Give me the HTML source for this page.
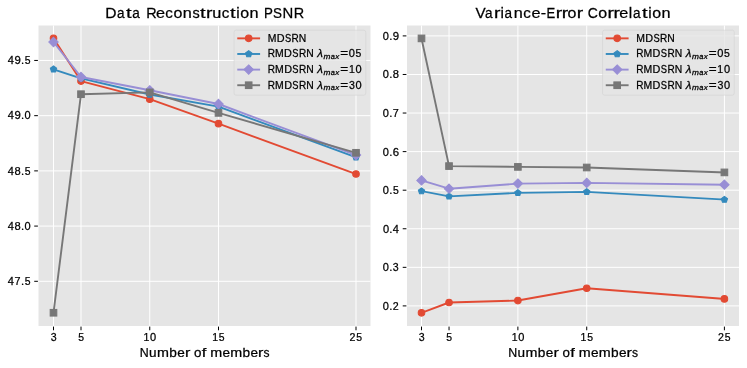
<!DOCTYPE html>
<html><head><meta charset="utf-8"><title>Data Reconstruction PSNR / Variance-Error Correlation</title>
<style>html,body{margin:0;padding:0;background:#fff;overflow:hidden;}svg{display:block;will-change:transform;}text{font-family:"Liberation Sans", sans-serif;fill:#000;stroke:#000;stroke-width:0.25px;}</style>
</head><body>
<svg width="747" height="368" viewBox="0 0 747 368">
<rect x="0" y="0" width="747" height="368" fill="#fff"/>
<rect x="38.5" y="25.5" width="332" height="300.5" fill="#E5E5E5"/>
<path d="M53.5 25.5V326M81 25.5V326M149.75 25.5V326M218.5 25.5V326M356 25.5V326M38.5 281.3H370.5M38.5 226.09H370.5M38.5 170.88H370.5M38.5 115.66H370.5M38.5 60.45H370.5" stroke="#fff" stroke-width="1" fill="none"/>
<path d="M53.5 326.6v3.67M81 326.6v3.67M149.75 326.6v3.67M218.5 326.6v3.67M356 326.6v3.67M37.9 281.3h-3.67M37.9 226.09h-3.67M37.9 170.88h-3.67M37.9 115.66h-3.67M37.9 60.45h-3.67" stroke="#000" stroke-width="1" fill="none"/>
<polyline points="53.5,38.3 81,81.1 149.75,99.2 218.5,123.7 356,174" fill="none" stroke="#E24A33" stroke-width="1.9" stroke-linejoin="round" stroke-linecap="square"/>
<circle cx="53.5" cy="38.3" r="3.3" fill="#E24A33" stroke="#E24A33" stroke-width="1.05"/><circle cx="81" cy="81.1" r="3.3" fill="#E24A33" stroke="#E24A33" stroke-width="1.05"/><circle cx="149.75" cy="99.2" r="3.3" fill="#E24A33" stroke="#E24A33" stroke-width="1.05"/><circle cx="218.5" cy="123.7" r="3.3" fill="#E24A33" stroke="#E24A33" stroke-width="1.05"/><circle cx="356" cy="174" r="3.3" fill="#E24A33" stroke="#E24A33" stroke-width="1.05"/>
<polyline points="53.5,69.3 81,78.3 149.75,94.5 218.5,106.6 356,157.4" fill="none" stroke="#348ABD" stroke-width="1.9" stroke-linejoin="round" stroke-linecap="square"/>
<polygon points="53.5,66 50.36,68.28 51.56,71.97 55.44,71.97 56.64,68.28" fill="#348ABD" stroke="#348ABD" stroke-width="1.05"/><polygon points="81,75 77.86,77.28 79.06,80.97 82.94,80.97 84.14,77.28" fill="#348ABD" stroke="#348ABD" stroke-width="1.05"/><polygon points="149.75,91.2 146.61,93.48 147.81,97.17 151.69,97.17 152.89,93.48" fill="#348ABD" stroke="#348ABD" stroke-width="1.05"/><polygon points="218.5,103.3 215.36,105.58 216.56,109.27 220.44,109.27 221.64,105.58" fill="#348ABD" stroke="#348ABD" stroke-width="1.05"/><polygon points="356,154.1 352.86,156.38 354.06,160.07 357.94,160.07 359.14,156.38" fill="#348ABD" stroke="#348ABD" stroke-width="1.05"/>
<polyline points="53.5,42 81,77 149.75,90.3 218.5,104 356,155.1" fill="none" stroke="#988ED5" stroke-width="1.9" stroke-linejoin="round" stroke-linecap="square"/>
<polygon points="53.5,37.33 58.17,42 53.5,46.67 48.83,42" fill="#988ED5" stroke="#988ED5" stroke-width="1.05"/><polygon points="81,72.33 85.67,77 81,81.67 76.33,77" fill="#988ED5" stroke="#988ED5" stroke-width="1.05"/><polygon points="149.75,85.63 154.42,90.3 149.75,94.97 145.08,90.3" fill="#988ED5" stroke="#988ED5" stroke-width="1.05"/><polygon points="218.5,99.33 223.17,104 218.5,108.67 213.83,104" fill="#988ED5" stroke="#988ED5" stroke-width="1.05"/><polygon points="356,150.43 360.67,155.1 356,159.77 351.33,155.1" fill="#988ED5" stroke="#988ED5" stroke-width="1.05"/>
<polyline points="53.5,312.75 81,94.2 149.75,92.4 218.5,112.9 356,152.8" fill="none" stroke="#777777" stroke-width="1.9" stroke-linejoin="round" stroke-linecap="square"/>
<rect x="50.2" y="309.45" width="6.6" height="6.6" fill="#777777" stroke="#777777" stroke-width="1.05"/><rect x="77.7" y="90.9" width="6.6" height="6.6" fill="#777777" stroke="#777777" stroke-width="1.05"/><rect x="146.45" y="89.1" width="6.6" height="6.6" fill="#777777" stroke="#777777" stroke-width="1.05"/><rect x="215.2" y="109.6" width="6.6" height="6.6" fill="#777777" stroke="#777777" stroke-width="1.05"/><rect x="352.7" y="149.5" width="6.6" height="6.6" fill="#777777" stroke="#777777" stroke-width="1.05"/>
<rect x="234.02" y="30.14" width="131.75" height="65.07" rx="2.1" ry="2.1" fill="#E5E5E5" fill-opacity="0.8" stroke="#CCCCCC" stroke-opacity="0.8" stroke-width="0.52"/>
<path d="M238.21 38.36H259.15" stroke="#E24A33" stroke-width="1.9" stroke-linecap="square"/>
<circle cx="248.68" cy="38.36" r="3.3" fill="#E24A33" stroke="#E24A33" stroke-width="1.05"/>
<path d="M238.21 53.98H259.15" stroke="#348ABD" stroke-width="1.9" stroke-linecap="square"/>
<polygon points="248.68,50.68 245.54,52.96 246.74,56.65 250.62,56.65 251.82,52.96" fill="#348ABD" stroke="#348ABD" stroke-width="1.05"/>
<path d="M238.21 69.61H259.15" stroke="#988ED5" stroke-width="1.9" stroke-linecap="square"/>
<polygon points="248.68,64.94 253.35,69.61 248.68,74.27 244.01,69.61" fill="#988ED5" stroke="#988ED5" stroke-width="1.05"/>
<path d="M238.21 85.23H259.15" stroke="#777777" stroke-width="1.9" stroke-linecap="square"/>
<rect x="245.38" y="81.93" width="6.6" height="6.6" fill="#777777" stroke="#777777" stroke-width="1.05"/>
<rect x="407" y="25.5" width="332" height="300.5" fill="#E5E5E5"/>
<path d="M421.5 25.5V326M449.04 25.5V326M517.88 25.5V326M586.72 25.5V326M724.4 25.5V326M407 305.9H739M407 267.33H739M407 228.76H739M407 190.19H739M407 151.61H739M407 113.04H739M407 74.47H739M407 35.9H739" stroke="#fff" stroke-width="1" fill="none"/>
<path d="M421.5 326.6v3.67M449.04 326.6v3.67M517.88 326.6v3.67M586.72 326.6v3.67M724.4 326.6v3.67M406.4 305.9h-3.67M406.4 267.33h-3.67M406.4 228.76h-3.67M406.4 190.19h-3.67M406.4 151.61h-3.67M406.4 113.04h-3.67M406.4 74.47h-3.67M406.4 35.9h-3.67" stroke="#000" stroke-width="1" fill="none"/>
<polyline points="421.5,312.8 449.04,302.5 517.88,300.56 586.72,288.2 724.4,298.9" fill="none" stroke="#E24A33" stroke-width="1.9" stroke-linejoin="round" stroke-linecap="square"/>
<circle cx="421.5" cy="312.8" r="3.3" fill="#E24A33" stroke="#E24A33" stroke-width="1.05"/><circle cx="449.04" cy="302.5" r="3.3" fill="#E24A33" stroke="#E24A33" stroke-width="1.05"/><circle cx="517.88" cy="300.56" r="3.3" fill="#E24A33" stroke="#E24A33" stroke-width="1.05"/><circle cx="586.72" cy="288.2" r="3.3" fill="#E24A33" stroke="#E24A33" stroke-width="1.05"/><circle cx="724.4" cy="298.9" r="3.3" fill="#E24A33" stroke="#E24A33" stroke-width="1.05"/>
<polyline points="421.5,191.1 449.04,196.4 517.88,192.9 586.72,191.85 724.4,199.6" fill="none" stroke="#348ABD" stroke-width="1.9" stroke-linejoin="round" stroke-linecap="square"/>
<polygon points="421.5,187.8 418.36,190.08 419.56,193.77 423.44,193.77 424.64,190.08" fill="#348ABD" stroke="#348ABD" stroke-width="1.05"/><polygon points="449.04,193.1 445.9,195.38 447.1,199.07 450.98,199.07 452.17,195.38" fill="#348ABD" stroke="#348ABD" stroke-width="1.05"/><polygon points="517.88,189.6 514.74,191.88 515.94,195.57 519.82,195.57 521.01,191.88" fill="#348ABD" stroke="#348ABD" stroke-width="1.05"/><polygon points="586.72,188.55 583.58,190.83 584.78,194.52 588.66,194.52 589.85,190.83" fill="#348ABD" stroke="#348ABD" stroke-width="1.05"/><polygon points="724.4,196.3 721.26,198.58 722.46,202.27 726.34,202.27 727.53,198.58" fill="#348ABD" stroke="#348ABD" stroke-width="1.05"/>
<polyline points="421.5,180.4 449.04,188.7 517.88,183.6 586.72,182.9 724.4,184.7" fill="none" stroke="#988ED5" stroke-width="1.9" stroke-linejoin="round" stroke-linecap="square"/>
<polygon points="421.5,175.73 426.17,180.4 421.5,185.07 416.83,180.4" fill="#988ED5" stroke="#988ED5" stroke-width="1.05"/><polygon points="449.04,184.03 453.7,188.7 449.04,193.37 444.37,188.7" fill="#988ED5" stroke="#988ED5" stroke-width="1.05"/><polygon points="517.88,178.93 522.54,183.6 517.88,188.27 513.21,183.6" fill="#988ED5" stroke="#988ED5" stroke-width="1.05"/><polygon points="586.72,178.23 591.38,182.9 586.72,187.57 582.05,182.9" fill="#988ED5" stroke="#988ED5" stroke-width="1.05"/><polygon points="724.4,180.03 729.06,184.7 724.4,189.37 719.73,184.7" fill="#988ED5" stroke="#988ED5" stroke-width="1.05"/>
<polyline points="421.5,38.4 449.04,166.1 517.88,166.9 586.72,167.5 724.4,172.4" fill="none" stroke="#777777" stroke-width="1.9" stroke-linejoin="round" stroke-linecap="square"/>
<rect x="418.2" y="35.1" width="6.6" height="6.6" fill="#777777" stroke="#777777" stroke-width="1.05"/><rect x="445.74" y="162.8" width="6.6" height="6.6" fill="#777777" stroke="#777777" stroke-width="1.05"/><rect x="514.58" y="163.6" width="6.6" height="6.6" fill="#777777" stroke="#777777" stroke-width="1.05"/><rect x="583.42" y="164.2" width="6.6" height="6.6" fill="#777777" stroke="#777777" stroke-width="1.05"/><rect x="721.1" y="169.1" width="6.6" height="6.6" fill="#777777" stroke="#777777" stroke-width="1.05"/>
<rect x="602.52" y="30.14" width="131.75" height="65.07" rx="2.1" ry="2.1" fill="#E5E5E5" fill-opacity="0.8" stroke="#CCCCCC" stroke-opacity="0.8" stroke-width="0.52"/>
<path d="M606.71 38.36H627.65" stroke="#E24A33" stroke-width="1.9" stroke-linecap="square"/>
<circle cx="617.18" cy="38.36" r="3.3" fill="#E24A33" stroke="#E24A33" stroke-width="1.05"/>
<path d="M606.71 53.98H627.65" stroke="#348ABD" stroke-width="1.9" stroke-linecap="square"/>
<polygon points="617.18,50.68 614.04,52.96 615.24,56.65 619.12,56.65 620.32,52.96" fill="#348ABD" stroke="#348ABD" stroke-width="1.05"/>
<path d="M606.71 69.61H627.65" stroke="#988ED5" stroke-width="1.9" stroke-linecap="square"/>
<polygon points="617.18,64.94 621.85,69.61 617.18,74.27 612.51,69.61" fill="#988ED5" stroke="#988ED5" stroke-width="1.05"/>
<path d="M606.71 85.23H627.65" stroke="#777777" stroke-width="1.9" stroke-linecap="square"/>
<rect x="613.88" y="81.93" width="6.6" height="6.6" fill="#777777" stroke="#777777" stroke-width="1.05"/>
<g transform="translate(105.17,18.38)" font-size="15.09"><text transform="translate(0.2,0) scale(1.034,1)">D</text><text transform="translate(11.94,0) scale(0.899,1)">a</text><text transform="translate(20.95,0) scale(1.335,1)">t</text><text transform="translate(27.09,0) scale(0.899,1)">a</text><text transform="translate(41.1,0) scale(0.956,1)">R</text><text transform="translate(50.74,0) scale(1.079,1)">e</text><text transform="translate(60.07,0) scale(1.003,1)">c</text><text transform="translate(68.33,0) scale(1.062,1)">o</text><text transform="translate(77.68,0) scale(1.077,1)">n</text><text transform="translate(87.37,0) scale(0.958,1)">s</text><text transform="translate(94.91,0) scale(1.335,1)">t</text><text transform="translate(100.81,0) scale(1.280,1)">r</text><text transform="translate(107.15,0) scale(1.077,1)">u</text><text transform="translate(116.67,0) scale(1.003,1)">c</text><text transform="translate(124.87,0) scale(1.335,1)">t</text><text transform="translate(131.07,0) scale(1.020,1)">i</text><text transform="translate(135.03,0) scale(1.062,1)">o</text><text transform="translate(144.39,0) scale(1.077,1)">n</text><text transform="translate(158.83,0) scale(0.884,1)">P</text><text transform="translate(167.93,0) scale(0.891,1)">S</text><text transform="translate(177.37,0) scale(0.987,1)">N</text><text transform="translate(188.69,0) scale(0.956,1)">R</text></g>
<g transform="translate(475.49,18.38)" font-size="15.09"><text transform="translate(0.05,0) scale(1.014,1)">V</text><text transform="translate(9.48,0) scale(0.899,1)">a</text><text transform="translate(18.47,0) scale(1.280,1)">r</text><text transform="translate(24.98,0) scale(1.020,1)">i</text><text transform="translate(29.11,0) scale(0.899,1)">a</text><text transform="translate(38.31,0) scale(1.077,1)">n</text><text transform="translate(47.76,0) scale(1.003,1)">c</text><text transform="translate(56.01,0) scale(1.079,1)">e</text><text transform="translate(65.16,0) scale(1.076,1)">-</text><text transform="translate(70.99,0) scale(0.866,1)">E</text><text transform="translate(80.2,0) scale(1.280,1)">r</text><text transform="translate(86.14,0) scale(1.280,1)">r</text><text transform="translate(92.07,0) scale(1.062,1)">o</text><text transform="translate(101.22,0) scale(1.280,1)">r</text><text transform="translate(112.27,0) scale(0.928,1)">C</text><text transform="translate(122.82,0) scale(1.062,1)">o</text><text transform="translate(131.97,0) scale(1.280,1)">r</text><text transform="translate(137.91,0) scale(1.280,1)">r</text><text transform="translate(143.82,0) scale(1.079,1)">e</text><text transform="translate(153.34,0) scale(1.020,1)">l</text><text transform="translate(157.48,0) scale(0.899,1)">a</text><text transform="translate(166.49,0) scale(1.335,1)">t</text><text transform="translate(172.69,0) scale(1.020,1)">i</text><text transform="translate(176.65,0) scale(1.062,1)">o</text><text transform="translate(186.01,0) scale(1.077,1)">n</text></g>
<g transform="translate(139.5,357.45)" font-size="13.17"><text transform="translate(0.21,0) scale(0.942,1)">N</text><text transform="translate(9.59,0) scale(1.029,1)">u</text><text transform="translate(17.55,0) scale(1.087,1)">m</text><text transform="translate(29.86,0) scale(1.038,1)">b</text><text transform="translate(37.7,0) scale(1.031,1)">e</text><text transform="translate(45.39,0) scale(1.222,1)">r</text><text transform="translate(54.61,0) scale(1.014,1)">o</text><text transform="translate(62.22,0) scale(1.253,1)">f</text><text transform="translate(70.77,0) scale(1.087,1)">m</text><text transform="translate(82.94,0) scale(1.031,1)">e</text><text transform="translate(90.75,0) scale(1.087,1)">m</text><text transform="translate(103.06,0) scale(1.038,1)">b</text><text transform="translate(110.89,0) scale(1.031,1)">e</text><text transform="translate(118.58,0) scale(1.222,1)">r</text><text transform="translate(124.02,0) scale(0.914,1)">s</text></g>
<g transform="translate(508,357.45)" font-size="13.17"><text transform="translate(0.21,0) scale(0.942,1)">N</text><text transform="translate(9.59,0) scale(1.029,1)">u</text><text transform="translate(17.55,0) scale(1.087,1)">m</text><text transform="translate(29.86,0) scale(1.038,1)">b</text><text transform="translate(37.7,0) scale(1.031,1)">e</text><text transform="translate(45.39,0) scale(1.222,1)">r</text><text transform="translate(54.61,0) scale(1.014,1)">o</text><text transform="translate(62.22,0) scale(1.253,1)">f</text><text transform="translate(70.77,0) scale(1.087,1)">m</text><text transform="translate(82.94,0) scale(1.031,1)">e</text><text transform="translate(90.75,0) scale(1.087,1)">m</text><text transform="translate(103.06,0) scale(1.038,1)">b</text><text transform="translate(110.89,0) scale(1.031,1)">e</text><text transform="translate(118.58,0) scale(1.222,1)">r</text><text transform="translate(124.02,0) scale(0.914,1)">s</text></g>
<g transform="translate(50.39,341.31)" font-size="10.74"><text transform="translate(0.39,0) scale(0.987,1)">3</text></g>
<g transform="translate(77.89,341.31)" font-size="10.74"><text transform="translate(0.39,0) scale(0.970,1)">5</text></g>
<g transform="translate(143.04,341.31)" font-size="10.74"><text transform="translate(0.35,0) scale(0.982,1)">1</text><text transform="translate(6.92,0) scale(1.028,1)">0</text></g>
<g transform="translate(211.8,341.31)" font-size="10.74"><text transform="translate(0.35,0) scale(0.982,1)">1</text><text transform="translate(7.05,0) scale(0.970,1)">5</text></g>
<g transform="translate(349.23,341.31)" font-size="10.74"><text transform="translate(0.23,0) scale(0.990,1)">2</text><text transform="translate(7.05,0) scale(0.970,1)">5</text></g>
<g transform="translate(7.59,285.21)" font-size="10.74"><text transform="translate(0.26,0) scale(1.028,1)">4</text><text transform="translate(6.97,0) scale(1.005,1)">7</text><text transform="translate(13.41,0) scale(1.055,1)">.</text><text transform="translate(17.05,0) scale(0.970,1)">5</text></g>
<g transform="translate(7.6,229.94)" font-size="10.74"><text transform="translate(0.26,0) scale(1.028,1)">4</text><text transform="translate(6.89,0) scale(1.039,1)">8</text><text transform="translate(13.41,0) scale(1.055,1)">.</text><text transform="translate(16.91,0) scale(1.028,1)">0</text></g>
<g transform="translate(7.59,174.89)" font-size="10.74"><text transform="translate(0.26,0) scale(1.028,1)">4</text><text transform="translate(6.89,0) scale(1.039,1)">8</text><text transform="translate(13.41,0) scale(1.055,1)">.</text><text transform="translate(17.05,0) scale(0.970,1)">5</text></g>
<g transform="translate(7.6,119.45)" font-size="10.74"><text transform="translate(0.26,0) scale(1.028,1)">4</text><text transform="translate(6.79,0) scale(1.062,1)">9</text><text transform="translate(13.41,0) scale(1.055,1)">.</text><text transform="translate(16.91,0) scale(1.028,1)">0</text></g>
<g transform="translate(7.59,64.33)" font-size="10.74"><text transform="translate(0.26,0) scale(1.028,1)">4</text><text transform="translate(6.79,0) scale(1.062,1)">9</text><text transform="translate(13.41,0) scale(1.055,1)">.</text><text transform="translate(17.05,0) scale(0.970,1)">5</text></g>
<g transform="translate(418.39,341.31)" font-size="10.74"><text transform="translate(0.39,0) scale(0.987,1)">3</text></g>
<g transform="translate(445.89,341.31)" font-size="10.74"><text transform="translate(0.39,0) scale(0.970,1)">5</text></g>
<g transform="translate(511.37,341.31)" font-size="10.74"><text transform="translate(0.35,0) scale(0.982,1)">1</text><text transform="translate(6.92,0) scale(1.028,1)">0</text></g>
<g transform="translate(580.17,341.31)" font-size="10.74"><text transform="translate(0.35,0) scale(0.982,1)">1</text><text transform="translate(7.05,0) scale(0.970,1)">5</text></g>
<g transform="translate(717.76,341.31)" font-size="10.74"><text transform="translate(0.23,0) scale(0.990,1)">2</text><text transform="translate(7.05,0) scale(0.970,1)">5</text></g>
<g transform="translate(382.61,309.89)" font-size="10.74"><text transform="translate(0.26,0) scale(1.028,1)">0</text><text transform="translate(6.75,0) scale(1.055,1)">.</text><text transform="translate(10.22,0) scale(0.990,1)">2</text></g>
<g transform="translate(382.45,271.23)" font-size="10.74"><text transform="translate(0.26,0) scale(1.028,1)">0</text><text transform="translate(6.75,0) scale(1.055,1)">.</text><text transform="translate(10.39,0) scale(0.987,1)">3</text></g>
<g transform="translate(382.62,232.81)" font-size="10.74"><text transform="translate(0.26,0) scale(1.028,1)">0</text><text transform="translate(6.75,0) scale(1.055,1)">.</text><text transform="translate(10.25,0) scale(1.028,1)">4</text></g>
<g transform="translate(382.57,194.01)" font-size="10.74"><text transform="translate(0.26,0) scale(1.028,1)">0</text><text transform="translate(6.75,0) scale(1.055,1)">.</text><text transform="translate(10.38,0) scale(0.970,1)">5</text></g>
<g transform="translate(382.6,155.53)" font-size="10.74"><text transform="translate(0.26,0) scale(1.028,1)">0</text><text transform="translate(6.75,0) scale(1.055,1)">.</text><text transform="translate(10.14,0) scale(1.064,1)">6</text></g>
<g transform="translate(382.56,116.83)" font-size="10.74"><text transform="translate(0.26,0) scale(1.028,1)">0</text><text transform="translate(6.75,0) scale(1.055,1)">.</text><text transform="translate(10.3,0) scale(1.005,1)">7</text></g>
<g transform="translate(382.58,78.41)" font-size="10.74"><text transform="translate(0.26,0) scale(1.028,1)">0</text><text transform="translate(6.75,0) scale(1.055,1)">.</text><text transform="translate(10.22,0) scale(1.039,1)">8</text></g>
<g transform="translate(382.57,39.74)" font-size="10.74"><text transform="translate(0.26,0) scale(1.028,1)">0</text><text transform="translate(6.75,0) scale(1.055,1)">.</text><text transform="translate(10.12,0) scale(1.062,1)">9</text></g>
<g transform="translate(267.57,41.87)" font-size="10.7"><text transform="translate(0.17,0) scale(0.976,1)">M</text><text transform="translate(9.17,0) scale(1.013,1)">D</text><text transform="translate(17.37,0) scale(0.873,1)">S</text><text transform="translate(23.95,0) scale(0.937,1)">R</text><text transform="translate(31.2,0) scale(0.967,1)">N</text></g>
<g transform="translate(267.59,57.43)" font-size="10.7"><text transform="translate(0.21,0) scale(0.937,1)">R</text><text transform="translate(7.47,0) scale(0.976,1)">M</text><text transform="translate(16.49,0) scale(1.013,1)">D</text><text transform="translate(24.71,0) scale(0.873,1)">S</text><text transform="translate(31.31,0) scale(0.937,1)">R</text><text transform="translate(38.58,0) scale(0.967,1)">N</text><text transform="translate(49.66,0) scale(1.076,1)" font-style="italic">λ</text><text transform="translate(55.93,1.72) scale(1.107,1)" font-style="italic" font-size="7.49">m</text><text transform="translate(63.1,1.72) scale(0.991,1)" font-style="italic" font-size="7.49">a</text><text transform="translate(67.6,1.72) scale(1.077,1)" font-style="italic" font-size="7.49">x</text><text transform="translate(72.54,0) scale(1.262,1)">=</text><text transform="translate(81.15,0) scale(1.032,1)">0</text><text transform="translate(87.96,0) scale(0.974,1)">5</text></g>
<g transform="translate(267.65,73.06)" font-size="10.7"><text transform="translate(0.21,0) scale(0.937,1)">R</text><text transform="translate(7.47,0) scale(0.976,1)">M</text><text transform="translate(16.49,0) scale(1.013,1)">D</text><text transform="translate(24.71,0) scale(0.873,1)">S</text><text transform="translate(31.31,0) scale(0.937,1)">R</text><text transform="translate(38.58,0) scale(0.967,1)">N</text><text transform="translate(49.66,0) scale(1.076,1)" font-style="italic">λ</text><text transform="translate(55.93,1.72) scale(1.107,1)" font-style="italic" font-size="7.49">m</text><text transform="translate(63.1,1.72) scale(0.991,1)" font-style="italic" font-size="7.49">a</text><text transform="translate(67.6,1.72) scale(1.077,1)" font-style="italic" font-size="7.49">x</text><text transform="translate(72.54,0) scale(1.262,1)">=</text><text transform="translate(81.24,0) scale(0.986,1)">1</text><text transform="translate(87.83,0) scale(1.032,1)">0</text></g>
<g transform="translate(267.65,88.68)" font-size="10.7"><text transform="translate(0.21,0) scale(0.937,1)">R</text><text transform="translate(7.47,0) scale(0.976,1)">M</text><text transform="translate(16.49,0) scale(1.013,1)">D</text><text transform="translate(24.71,0) scale(0.873,1)">S</text><text transform="translate(31.31,0) scale(0.937,1)">R</text><text transform="translate(38.58,0) scale(0.967,1)">N</text><text transform="translate(49.66,0) scale(1.076,1)" font-style="italic">λ</text><text transform="translate(55.93,1.72) scale(1.107,1)" font-style="italic" font-size="7.49">m</text><text transform="translate(63.1,1.72) scale(0.991,1)" font-style="italic" font-size="7.49">a</text><text transform="translate(67.6,1.72) scale(1.077,1)" font-style="italic" font-size="7.49">x</text><text transform="translate(72.54,0) scale(1.262,1)">=</text><text transform="translate(81.29,0) scale(0.991,1)">3</text><text transform="translate(87.83,0) scale(1.032,1)">0</text></g>
<g transform="translate(636.07,41.87)" font-size="10.7"><text transform="translate(0.17,0) scale(0.976,1)">M</text><text transform="translate(9.17,0) scale(1.013,1)">D</text><text transform="translate(17.37,0) scale(0.873,1)">S</text><text transform="translate(23.95,0) scale(0.937,1)">R</text><text transform="translate(31.2,0) scale(0.967,1)">N</text></g>
<g transform="translate(636.09,57.43)" font-size="10.7"><text transform="translate(0.21,0) scale(0.937,1)">R</text><text transform="translate(7.47,0) scale(0.976,1)">M</text><text transform="translate(16.49,0) scale(1.013,1)">D</text><text transform="translate(24.71,0) scale(0.873,1)">S</text><text transform="translate(31.31,0) scale(0.937,1)">R</text><text transform="translate(38.58,0) scale(0.967,1)">N</text><text transform="translate(49.66,0) scale(1.076,1)" font-style="italic">λ</text><text transform="translate(55.93,1.72) scale(1.107,1)" font-style="italic" font-size="7.49">m</text><text transform="translate(63.1,1.72) scale(0.991,1)" font-style="italic" font-size="7.49">a</text><text transform="translate(67.6,1.72) scale(1.077,1)" font-style="italic" font-size="7.49">x</text><text transform="translate(72.54,0) scale(1.262,1)">=</text><text transform="translate(81.15,0) scale(1.032,1)">0</text><text transform="translate(87.96,0) scale(0.974,1)">5</text></g>
<g transform="translate(636.12,73.06)" font-size="10.7"><text transform="translate(0.21,0) scale(0.937,1)">R</text><text transform="translate(7.47,0) scale(0.976,1)">M</text><text transform="translate(16.49,0) scale(1.013,1)">D</text><text transform="translate(24.71,0) scale(0.873,1)">S</text><text transform="translate(31.31,0) scale(0.937,1)">R</text><text transform="translate(38.58,0) scale(0.967,1)">N</text><text transform="translate(49.66,0) scale(1.076,1)" font-style="italic">λ</text><text transform="translate(55.93,1.72) scale(1.107,1)" font-style="italic" font-size="7.49">m</text><text transform="translate(63.1,1.72) scale(0.991,1)" font-style="italic" font-size="7.49">a</text><text transform="translate(67.6,1.72) scale(1.077,1)" font-style="italic" font-size="7.49">x</text><text transform="translate(72.54,0) scale(1.262,1)">=</text><text transform="translate(81.24,0) scale(0.986,1)">1</text><text transform="translate(87.83,0) scale(1.032,1)">0</text></g>
<g transform="translate(636.12,88.68)" font-size="10.7"><text transform="translate(0.21,0) scale(0.937,1)">R</text><text transform="translate(7.47,0) scale(0.976,1)">M</text><text transform="translate(16.49,0) scale(1.013,1)">D</text><text transform="translate(24.71,0) scale(0.873,1)">S</text><text transform="translate(31.31,0) scale(0.937,1)">R</text><text transform="translate(38.58,0) scale(0.967,1)">N</text><text transform="translate(49.66,0) scale(1.076,1)" font-style="italic">λ</text><text transform="translate(55.93,1.72) scale(1.107,1)" font-style="italic" font-size="7.49">m</text><text transform="translate(63.1,1.72) scale(0.991,1)" font-style="italic" font-size="7.49">a</text><text transform="translate(67.6,1.72) scale(1.077,1)" font-style="italic" font-size="7.49">x</text><text transform="translate(72.54,0) scale(1.262,1)">=</text><text transform="translate(81.29,0) scale(0.991,1)">3</text><text transform="translate(87.83,0) scale(1.032,1)">0</text></g>
</svg>
</body></html>
